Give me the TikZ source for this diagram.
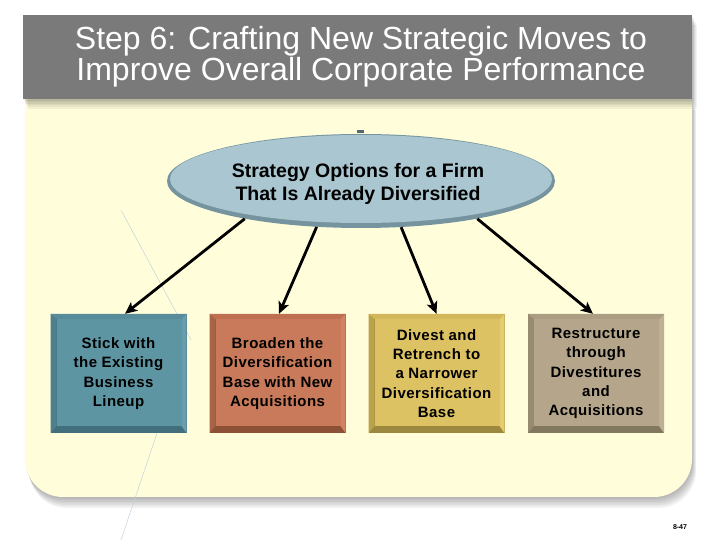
\documentclass[tikz,border=0pt]{standalone}
\usepackage{fontspec}
\setmainfont{Liberation Sans}
\usetikzlibrary{shapes.geometric,arrows.meta}
\definecolor{panelc}{RGB}{255,253,218}
\definecolor{titlec}{RGB}{122,122,122}
\definecolor{ellface}{RGB}{170,199,209}
\definecolor{ellring}{RGB}{118,148,160}
\definecolor{faint}{RGB}{195,212,222}
% box 1 teal
\definecolor{aL}{RGB}{78,127,141}\definecolor{aT}{RGB}{88,140,154}\definecolor{aR}{RGB}{104,158,172}\definecolor{aB}{RGB}{66,111,124}\definecolor{aF}{RGB}{94,149,163}
% box 2 terracotta
\definecolor{bL}{RGB}{168,98,68}\definecolor{bT}{RGB}{190,112,80}\definecolor{bR}{RGB}{208,132,100}\definecolor{bB}{RGB}{140,80,55}\definecolor{bF}{RGB}{200,122,90}
% box 3 mustard
\definecolor{cL}{RGB}{186,162,74}\definecolor{cT}{RGB}{210,184,90}\definecolor{cR}{RGB}{228,204,112}\definecolor{cB}{RGB}{156,136,62}\definecolor{cF}{RGB}{220,194,99}
% box 4 taupe
\definecolor{dL}{RGB}{150,138,112}\definecolor{dT}{RGB}{172,158,130}\definecolor{dR}{RGB}{190,176,148}\definecolor{dB}{RGB}{130,119,95}\definecolor{dF}{RGB}{181,166,139}
\tikzset{
  bevelbox/.style n args={5}{rectangle, minimum width=136pt, minimum height=119pt,
    inner sep=0pt, align=center, fill=#4,
    font=\fontsize{15}{19.4}\selectfont\bfseries\addfontfeatures{LetterSpace=3},
    path picture={
      \coordinate (NW) at (path picture bounding box.north west);
      \coordinate (NE) at (path picture bounding box.north east);
      \coordinate (SW) at (path picture bounding box.south west);
      \coordinate (SE) at (path picture bounding box.south east);
      \fill[#1] (NW) -- (SW) -- ([shift={(6pt,7pt)}]SW) -- ([shift={(6pt,-5pt)}]NW) -- cycle;
      \fill[#2] (NW) -- (NE) -- ([shift={(-5pt,-5pt)}]NE) -- ([shift={(6pt,-5pt)}]NW) -- cycle;
      \fill[#3] (NE) -- (SE) -- ([shift={(-5pt,7pt)}]SE) -- ([shift={(-5pt,-5pt)}]NE) -- cycle;
      \fill[#5] ([shift={(6pt,7pt)}]SW) rectangle ([shift={(-5pt,-5pt)}]NE);
    }},
  arr/.style={line width=2.8pt, -{Stealth[length=12pt,width=11pt,inset=3pt]}},
  shadowc/.style={fill=black, opacity=0.07}
}
\newcommand{\panelpath}{(25,441) -- (25,81) arc[start angle=180,end angle=270,radius=38] -- (654,43) arc[start angle=270,end angle=360,radius=38] -- (692,441) -- cycle}
\begin{document}
\begin{tikzpicture}[x=1pt,y=1pt]
\useasboundingbox (0,0) rectangle (720,540);
\fill[white] (0,0) rectangle (720,540);
% panel shadow
\foreach \s in {1,2,...,7}{
  \fill[shadowc,opacity=0.045] [shift={(0.6*\s,-1.6*\s)}] \panelpath;
}
\fill[panelc] \panelpath;
% faint stray lines
\draw[faint,line width=0.5pt] (121,330) -- (191,200);
\draw[faint,line width=0.5pt] (157,107) -- (121,0);
% title shadow
\foreach \s in {1,2,...,6}{
  \fill[black,opacity=0.05] (23+0.8*\s,441-1.6*\s) rectangle (692+0.8*\s,525-1.6*\s);
}
\fill[titlec] (23,441) rectangle (692,525);
\node[text=white, align=center, font=\fontsize{32}{31}\selectfont, inner sep=0pt] (title) at (361,483)
  {Step 6: Crafting New Strategic Moves to\\Improve Overall Corporate Performance};
% central ellipse
\node[ellipse, minimum width=388pt, minimum height=94pt, inner sep=0pt, fill=ellring] (ell) at (361,359) {};
\fill[ellface] (361,361) ellipse [x radius=191pt, y radius=44pt];
\fill[ellring!70!black] (357,407) rectangle (364,409.5);
\node[align=center, font=\fontsize{19.5}{23}\selectfont\bfseries, inner sep=0pt] (elltext) at (358,356)
  {Strategy Options for a Firm\\That Is Already Diversified};
% boxes
\node[bevelbox={aL}{aT}{aR}{aB}{aF}] (b1) at (118.5,166.5) {Stick with\\the Existing\\Business\\Lineup};
\node[bevelbox={bL}{bT}{bR}{bB}{bF}] (b2) at (277.5,166.5) {Broaden the\\Diversification\\Base with New\\Acquisitions};
\node[bevelbox={cL}{cT}{cR}{cB}{cF}] (b3) at (436.5,166.5) {Divest and\\Retrench to\\a Narrower\\Diversification\\Base};
\node[bevelbox={dL}{dT}{dR}{dB}{dF}] (b4) at (596,166.5) {Restructure\\through\\Divestitures\\and\\Acquisitions};
% arrows
\draw[arr] (ell.198) -- ([xshift=6.5pt]b1.north);
\draw[arr] (ell.226) -- ([xshift=1.5pt]b2.north);
\draw[arr] (ell.311) -- (b3.north);
\draw[arr] (ell.342) -- ([xshift=-3pt]b4.north);
% page number
\node[font=\fontsize{7}{8}\selectfont\bfseries, inner sep=0pt] (pg) at (680,13) {8-47};
\end{tikzpicture}
\end{document}
